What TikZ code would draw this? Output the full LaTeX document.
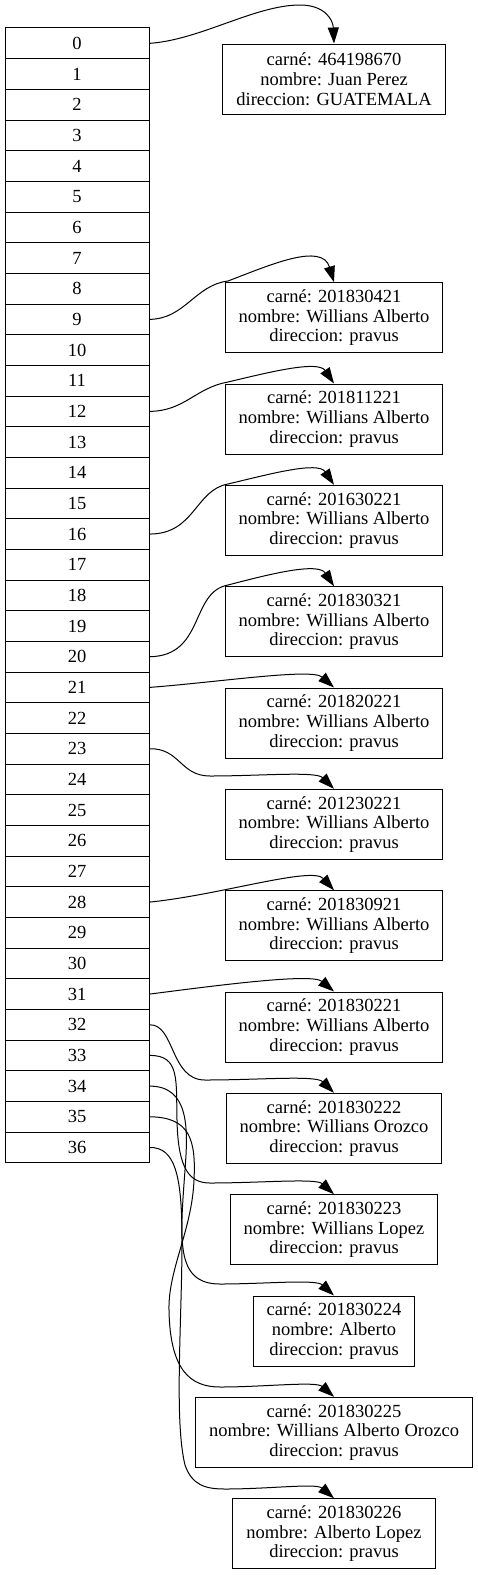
\documentclass[tikz,border=0pt]{standalone}
\usepackage{fontspec}
\setmainfont{Liberation Serif}
\usetikzlibrary{arrows.meta}
\begin{document}
\begin{tikzpicture}[x=1pt,y=-1pt,
  cell/.style={draw, line width=1pt, minimum width=144pt, minimum height=30.67pt, inner sep=0pt, font=\fontsize{18.5}{19.7}\selectfont},
  rec/.style={draw, line width=1pt, align=center, inner xsep=13.5pt, inner ysep=0pt, minimum height=70pt, font=\fontsize{18.5}{19.7}\selectfont},
  link/.style={line width=1pt, -{Triangle[length=16pt,width=11pt]}}]
\useasboundingbox (0,0) rectangle (477,1575);
\foreach \i in {0,...,36} { \node[cell] (r\i) at (77, 43.33+30.67*\i) {\i}; }

\node[rec] (b0)  at (334,79)     {carné: 464198670\\nombre: Juan Perez\\direccion: GUATEMALA};
\node[rec] (b9)  at (334,317.7)  {carné: 201830421\\nombre: Willians Alberto\\direccion: pravus};
\node[rec] (b12) at (334,419)    {carné: 201811221\\nombre: Willians Alberto\\direccion: pravus};
\node[rec] (b16) at (334,520.3)  {carné: 201630221\\nombre: Willians Alberto\\direccion: pravus};
\node[rec] (b20) at (334,621.7)  {carné: 201830321\\nombre: Willians Alberto\\direccion: pravus};
\node[rec] (b21) at (334,723)    {carné: 201820221\\nombre: Willians Alberto\\direccion: pravus};
\node[rec] (b23) at (334,824.3)  {carné: 201230221\\nombre: Willians Alberto\\direccion: pravus};
\node[rec] (b28) at (334,925.7)  {carné: 201830921\\nombre: Willians Alberto\\direccion: pravus};
\node[rec] (b31) at (334,1027)   {carné: 201830221\\nombre: Willians Alberto\\direccion: pravus};
\node[rec] (b32) at (334,1128.3) {carné: 201830222\\nombre: Willians Orozco\\direccion: pravus};
\node[rec] (b33) at (334,1229.7) {carné: 201830223\\nombre: Willians Lopez\\direccion: pravus};
\node[rec] (b34) at (334,1331)   {carné: 201830224\\nombre: Alberto\\direccion: pravus};
\node[rec] (b35) at (334,1432.3) {carné: 201830225\\nombre: Willians Alberto Orozco\\direccion: pravus};
\node[rec] (b36) at (334,1533.7) {carné: 201830226\\nombre: Alberto Lopez\\direccion: pravus};

\draw[link] (r0.east) .. controls (200,40) and (255,5) .. (300,5) .. controls (325,5) and (333,20) .. (b0.north);
\draw[link] (r9.east) .. controls (185,319) and (195,285) .. (228,281) .. controls (270,265) and (322,242) .. (b9.north);
\draw[link] (r12.east) .. controls (185,411) and (195,388) .. (228,382) .. controls (270,372) and (318,360) .. (b12.north);
\draw[link] (r16.east) .. controls (195,534) and (195,490) .. (228,484) .. controls (270,474) and (318,461) .. (b16.north);
\draw[link] (r20.east) .. controls (205,656) and (190,592) .. (228,585) .. controls (270,574) and (318,562) .. (b20.north);
\draw[link] (r21.east) .. controls (220,682) and (312,668) .. (b21.north);
\draw[link] (r23.east) .. controls (180,748) and (180,776) .. (210,776) .. controls (260,776) and (316,771) .. (b23.north);
\draw[link] (r28.east) .. controls (220,895) and (312,866) .. (b28.north);
\draw[link] (r31.east) .. controls (220,985) and (312,973) .. (b31.north);
\draw[link] (r32.east) .. controls (175,1024) and (170,1080) .. (205,1080) .. controls (260,1080) and (316,1075) .. (b32.north);
\draw[link] (r33.east) .. controls (180,1055) and (176,1080) .. (177,1120) .. controls (178,1170) and (190,1183) .. (210,1183) .. controls (260,1183) and (316,1178) .. (b33.north);
\draw[link] (r34.east) .. controls (190,1086) and (188,1130) .. (185,1170) .. controls (180,1240) and (175,1284) .. (220,1284) .. controls (265,1284) and (316,1279) .. (b34.north);
\draw[link] (r35.east) .. controls (190,1117) and (196,1140) .. (194,1180) .. controls (192,1230) and (168,1270) .. (169,1310) .. controls (170,1370) and (190,1387) .. (220,1387) .. controls (265,1387) and (316,1381) .. (b35.north);
\draw[link] (r36.east) .. controls (175,1147) and (182,1175) .. (182,1240) .. controls (182,1320) and (174,1420) .. (185,1465) .. controls (192,1485) and (205,1489) .. (225,1489) .. controls (270,1489) and (316,1483) .. (b36.north);
\end{tikzpicture}
\end{document}
